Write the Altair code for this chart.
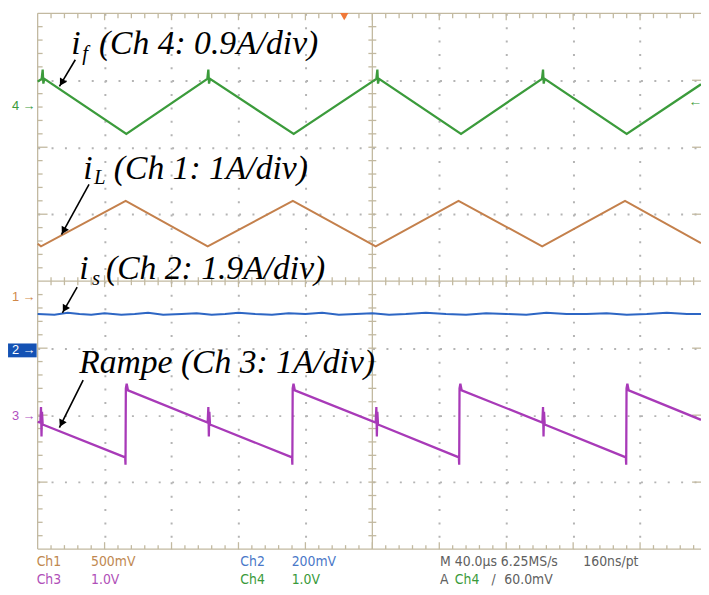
import math
import altair as alt
import pandas as pd

# ---------------- values read from the screen ----------------
# time in µs (40 µs/div), vertical position in screen divisions (8 div tall)
ch4_t = [0, 2.4, 3.0, 3.4, 4.0, 53, 101.4, 102.0, 102.4, 103.0, 153, 202.4, 203.0, 203.4, 204.0,
         253, 301.4, 302.0, 302.4, 303.0, 352, 396.4]
ch4_v = [2.98, 3.02, 3.16, 2.95, 3.02, 2.20, 3.02, 3.16, 2.95, 3.02, 2.20, 3.02, 3.16, 2.95, 3.02,
         2.20, 3.02, 3.16, 2.95, 3.02, 2.20, 2.94]

ch1_t = [0, 2, 52.6, 101.6, 152.5, 202, 251.5, 301.5, 351, 396.4]
ch1_v = [0.56, 0.52, 1.20, 0.52, 1.20, 0.52, 1.20, 0.52, 1.20, 0.57]

ch2_t = [0, 10, 18, 25, 32, 40, 50, 58, 66, 75, 86, 95, 104, 112, 120, 130, 140, 150, 160, 170,
         180, 190, 200, 210, 220, 232, 244, 256, 268, 280, 292, 304, 316, 328, 340, 352, 364, 376, 388, 396.4]
ch2_v = [-0.49, -0.50, -0.47, -0.49, -0.50, -0.48, -0.50, -0.49, -0.47, -0.50,
         -0.49, -0.48, -0.50, -0.49, -0.47, -0.49, -0.50, -0.48, -0.49, -0.47,
         -0.50, -0.49, -0.48, -0.50, -0.49, -0.47, -0.49, -0.50, -0.48, -0.49,
         -0.50, -0.47, -0.49, -0.49, -0.48, -0.50, -0.49, -0.47, -0.49, -0.49]

ch3_t = [0, 1.6, 2.0, 2.3, 2.6, 3.0,
         52.3, 52.5, 52.7, 53.2, 54.0, 101.6, 102.0, 102.3, 102.6, 103.0,
         152.0, 152.2, 152.4, 152.9, 153.7, 202.0, 202.4, 202.7, 203.0, 203.4,
         251.7, 251.9, 252.1, 252.6, 253.4, 301.6, 302.0, 302.3, 302.6, 303.0,
         351.5, 351.7, 351.9, 352.4, 353.2, 396.4]
ch3_v = [-2.10, -2.11, -1.88, -2.32, -1.95, -2.14,
         -2.63, -2.74, -1.60, -1.53, -1.63, -2.11, -1.88, -2.32, -1.95, -2.14,
         -2.63, -2.74, -1.60, -1.53, -1.63, -2.11, -1.88, -2.32, -1.95, -2.14,
         -2.63, -2.74, -1.60, -1.53, -1.63, -2.11, -1.88, -2.32, -1.95, -2.14,
         -2.63, -2.74, -1.60, -1.53, -1.63, -2.07]

# annotation texts (italic serif)
ann_text = ["i", "(Ch 4: 0.9A/div)", "i", "(Ch 1: 1A/div)", "i", "(Ch 2: 1.9A/div)", "Rampe (Ch 3: 1A/div)"]
ann_t = [20.1, 36.6, 27.2, 45.5, 24.8, 40.8, 24.8]
ann_v = [3.395, 3.395, 1.520, 1.520, 0.030, 0.030, -1.373]
sub_text = ["f", "L", "s"]
sub_t = [26.6, 33.7, 32.5]
sub_v = [3.306, 1.446, -0.059]

# arrows: tail -> tip
arr_t = [22.5, 30.7, 23.6, 27.2]
arr_v = [3.306, 1.446, -0.089, -1.476]
arr_t2 = [13.0, 14.2, 14.8, 13.0]
arr_v2 = [2.908, 0.694, -0.472, -2.185]

# channel markers at left
mk_text = ["4 \u2192", "1 \u2192", "3 \u2192"]
mk_v = [2.613, -0.236, -2.007]
mk_col = ["#3a9a3a", "#d08848", "#b050c0"]

# bottom status text
st_text = ["Ch1", "500mV", "Ch3", "1.0V", "Ch2", "200mV", "Ch4", "1.0V",
           "M 40.0\u00b5s 6.25MS/s", "160ns/pt", "A", "Ch4", "/", "60.0mV"]
st_t = [-0.6, 31.9, -0.6, 31.9, 121.1, 151.8, 121.1, 151.8, 240.5, 326.1, 240.5, 249.3, 271.2, 278.9]
st_v = [-4.251, -4.251, -4.517, -4.517, -4.251, -4.251, -4.517, -4.517, -4.251, -4.251, -4.517, -4.517, -4.517, -4.517]
st_col = ["#c08850", "#c08850", "#b050b8", "#b050b8", "#4a78c8", "#4a78c8", "#3a9a3a", "#3a9a3a",
          "#606060", "#606060", "#606060", "#3a9a3a", "#606060", "#606060"]

# ---------------- layout helpers ----------------
X_MAX = 396.4
PX_X = 67.7 / 40.0   # px per µs
PX_Y = 67.75         # px per division

X = alt.X("t:Q", scale=alt.Scale(domain=[0, X_MAX], nice=False, zero=False),
          axis=alt.Axis(values=[40, 80, 120, 160, 240, 280, 320, 360], grid=True, labels=False,
                        ticks=False, domain=False, title=None, gridColor="#b4b4b4",
                        gridDash=[2, 11.54], gridWidth=2))
Y = alt.Y("v:Q", scale=alt.Scale(domain=[-4, 4], nice=False, zero=False),
          axis=alt.Axis(values=[-3, -2, -1, 1, 2, 3], grid=True, labels=False, ticks=False,
                        domain=False, title=None, gridColor="#b4b4b4",
                        gridDash=[2, 11.55], gridWidth=2))

# graticule segments
seg = []
def add(t, v, t2, v2):
    seg.append(dict(t=t, v=v, t2=t2, v2=v2))

add(0, -4, 0, 4); add(0, 4, X_MAX, 4); add(0, -4, X_MAX, -4)
add(200, -4, 200, 4); add(0, 0, X_MAX, 0)
for k in range(1, 50):
    tt = 8 * k
    major = k % 5 == 0
    add(tt, 4, tt, 4 - (7 if major else 5) / PX_Y)
    add(tt, -4, tt, -4 + (7 if major else 4) / PX_Y)
    if k != 25:
        h = (6 if major else 4) / PX_Y
        add(tt, -h, tt, h)
for j in range(-19, 20):
    if j == 0:
        continue
    vv = 0.2 * j
    major = j % 5 == 0
    add(0, vv, (10 if major else 5) / PX_X, vv)
    w = 4 / PX_X
    add(200 - w, vv, 200 + w, vv)
    if major:
        add(X_MAX - 9 / PX_X, vv, X_MAX, vv)
grat = alt.Chart(pd.DataFrame(seg)).mark_rule(color="#c2b9a0", strokeWidth=1.3).encode(
    x=X, y=Y, x2="t2:Q", y2="v2:Q")

def trace(ts, vs, color, sw):
    df = pd.DataFrame({"t": ts, "v": vs, "i": list(range(len(ts)))})
    return alt.Chart(df).mark_line(color=color, strokeWidth=sw).encode(
        x=X, y=Y, order=alt.Order("i:Q"))

g = trace(ch4_t, ch4_v, "#3b9b3b", 2.3)
b = trace(ch1_t, ch1_v, "#c4804c", 2.0)
bl = trace(ch2_t, ch2_v, "#2d66c4", 2.0)
m = trace(ch3_t, ch3_v, "#a83ab8", 2.3)

serif = "Liberation Serif"
ann = alt.Chart(pd.DataFrame({"t": ann_t, "v": ann_v, "s": ann_text})).mark_text(
    font=serif, fontStyle="italic", fontSize=34, align="left", baseline="alphabetic", color="black"
).encode(x=X, y=Y, text="s:N")
sub = alt.Chart(pd.DataFrame({"t": sub_t, "v": sub_v, "s": sub_text})).mark_text(
    font=serif, fontStyle="italic", fontSize=21, align="left", baseline="alphabetic", color="black"
).encode(x=X, y=Y, text="s:N")

arr_df = pd.DataFrame({"t": arr_t, "v": arr_v, "t2": arr_t2, "v2": arr_v2})
shaft = alt.Chart(arr_df).mark_rule(color="black", strokeWidth=1.6).encode(x=X, y=Y, x2="t2:Q", y2="v2:Q")
heads = []
for a, bb, c, d in zip(arr_t, arr_v, arr_t2, arr_v2):
    dx = (c - a) * PX_X
    dy = -(d - bb) * PX_Y
    L = math.hypot(dx, dy)
    ang = math.degrees(math.atan2(dx, -dy)) % 360
    heads.append(dict(t=c - 4.5 * dx / L / PX_X, v=d + 4.5 * dy / L / PX_Y, a=ang))
head = alt.Chart(pd.DataFrame(heads)).mark_point(
    shape="triangle-up", filled=True, color="black", size=70, opacity=1
).encode(x=X, y=Y, angle=alt.Angle("a:Q", scale=None))

mk = alt.Chart(pd.DataFrame({"t": [-1.2] * 3, "v": mk_v, "s": mk_text, "c": mk_col})).mark_text(
    font="Liberation Sans", fontSize=13, align="right", baseline="middle"
).encode(x=X, y=Y, text="s:N", color=alt.Color("c:N", scale=None))
box = alt.Chart(pd.DataFrame({"t": [-17.7], "t2": [-0.6], "v": [-0.93], "v2": [-1.137]})).mark_rect(
    color="#1452b4").encode(x=X, x2="t2:Q", y=Y, y2="v2:Q")
box_txt = alt.Chart(pd.DataFrame({"t": [-1.2], "v": [-1.033], "s": ["2 \u2192"]})).mark_text(
    font="Liberation Sans", fontSize=13, align="right", baseline="middle", color="white"
).encode(x=X, y=Y, text="s:N")
trig_r = alt.Chart(pd.DataFrame({"t": [389.0], "v": [2.672], "s": ["\u2190"]})).mark_text(
    font="Liberation Sans", fontSize=14, fontWeight="bold", align="left", baseline="middle", color="#3a9a3a"
).encode(x=X, y=Y, text="s:N")
trig_top = alt.Chart(pd.DataFrame({"t": [183.2], "v": [3.95]})).mark_point(
    shape="triangle-down", filled=True, color="#f07838", size=70, opacity=1
).encode(x=X, y=Y)

status = alt.Chart(pd.DataFrame({"t": st_t, "v": st_v, "s": st_text, "c": st_col})).mark_text(
    font="DejaVu Sans Condensed, Liberation Sans Narrow, Liberation Sans, sans-serif", fontSize=14,
    align="left", baseline="alphabetic"
).encode(x=X, y=Y, text="s:N", color=alt.Color("c:N", scale=None))

chart = alt.layer(grat, b, g, bl, m, ann, sub, shaft, head, mk, box, box_txt, trig_r, trig_top, status).properties(
    width=671, height=542,
    autosize=alt.AutoSizeParams(type="none"),
    padding={"left": 30, "top": 2, "right": 0, "bottom": 35},
    background="white",
).configure_view(stroke=None)

chart.save("out.html", embed_options={"renderer": "svg", "actions": False})
